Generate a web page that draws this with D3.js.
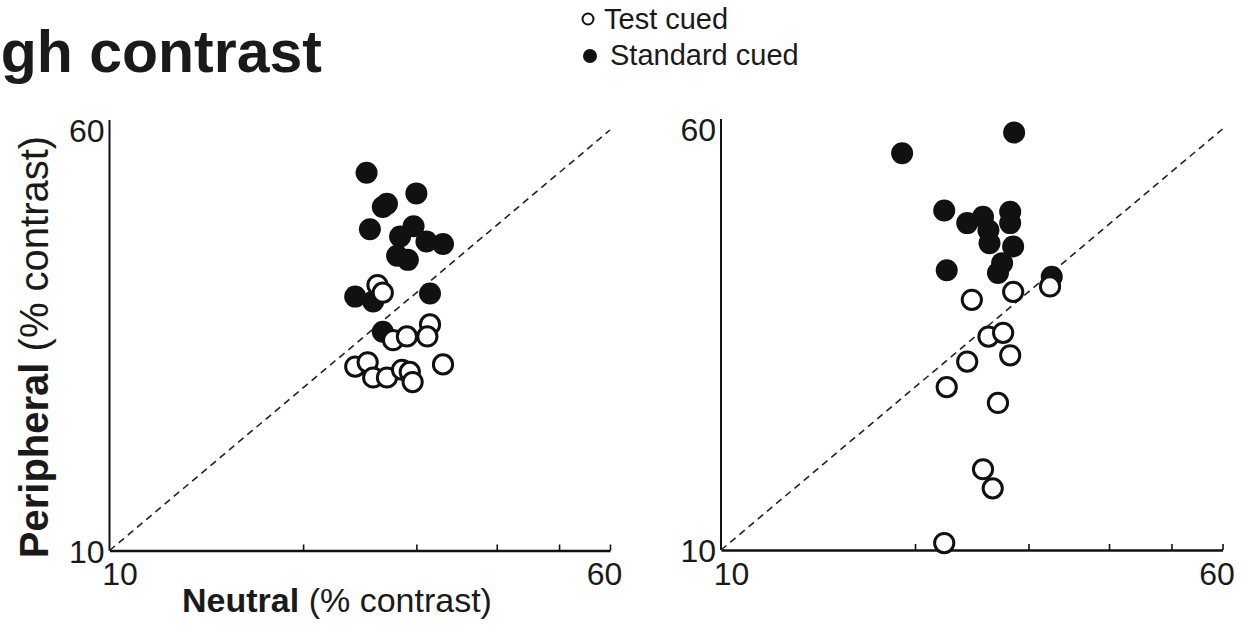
<!DOCTYPE html>
<html>
<head>
<meta charset="utf-8">
<script src="https://cdn.jsdelivr.net/npm/d3@7"></script>
<style>
  html, body { margin: 0; padding: 0; background: #fff; }
  svg { display: block; }
  text { font-family: "Liberation Sans", Arial, sans-serif; fill: #1a1a1a; }
</style>
</head>
<body>
<svg id="chart" width="1253" height="631"></svg>
<script>
// ---- data (Neutral %, Peripheral %) ----
const axisDomain = [10, 60];
const majorTicks = [10, 60];
const minorTicks = [20, 30, 40, 50];
const seriesNames = ["Test cued", "Standard cued"];

const leftStandard = [[25.1,50.0],[30.0,45.8],[26.6,43.2],[27.0,43.8],[25.4,39.3],[29.7,39.8],[28.3,38.1],[31.1,37.3],[33.0,36.9],[28.0,35.1],[29.1,34.5],[24.1,29.5],[25.7,28.9],[31.5,29.9],[26.6,25.4]];
const leftTest = [[26.1,31.0],[26.6,30.0],[31.5,26.2],[31.2,24.9],[27.6,24.5],[29.0,24.9],[24.1,21.9],[25.2,22.3],[25.7,20.9],[27.0,20.9],[28.5,21.6],[29.3,21.4],[29.6,20.5],[33.0,22.1]];
const rightStandard = [[19.1,54.1],[28.5,59.1],[22.2,42.4],[24.1,40.2],[25.5,41.3],[26.0,39.0],[26.1,36.9],[28.1,42.2],[28.1,40.2],[28.4,36.4],[27.3,33.9],[26.9,32.5],[22.4,32.9],[32.6,32.0]];
const rightTest = [[24.5,29.0],[28.4,30.0],[32.4,30.7],[26.0,24.8],[27.4,25.2],[28.1,22.9],[24.1,22.3],[22.4,20.0],[26.9,18.7],[25.5,14.1],[26.4,13.0],[22.2,10.3]];

const svg = d3.select("#chart");

// Title (cut off at the left edge)
svg.append("text")
  .attr("x", 322).attr("y", 72)
  .attr("text-anchor", "end")
  .style("font-size", "59px").style("font-weight", "bold")
  .text("High contrast");

// Legend
const legend = svg.append("g");
legend.append("circle").attr("cx", 588).attr("cy", 19).attr("r", 5.5)
  .attr("fill", "#fff").attr("stroke", "#111").attr("stroke-width", 2);
legend.append("circle").attr("cx", 590).attr("cy", 56).attr("r", 7)
  .attr("fill", "#111");
legend.append("text").attr("x", 604).attr("y", 29).style("font-size", "29px").text(seriesNames[0]);
legend.append("text").attr("x", 610).attr("y", 65).style("font-size", "29px").text(seriesNames[1]);

function panel(x0, x1, y0, y1, standard, test) {
  const x = d3.scaleLog().domain(axisDomain).range([x0, x1]);
  const y = d3.scaleLog().domain(axisDomain).range([y0, y1]);
  const g = svg.append("g");

  // x axis: major tick labels + minor ticks pointing inward
  const xAxis = g.append("g").attr("transform", `translate(0,${y0})`)
    .call(d3.axisBottom(x).tickValues(majorTicks.concat(minorTicks))
      .tickSize(-6).tickSizeOuter(0)
      .tickFormat(d => majorTicks.includes(d) ? d3.format("d")(d) : ""));
  xAxis.select(".domain").attr("stroke", "#111").attr("stroke-width", 2.5);
  xAxis.selectAll(".tick line").attr("stroke", "#111").attr("stroke-width", 1.6);
  xAxis.selectAll(".tick").filter(d => d === majorTicks[0]).select("line").remove();
  xAxis.selectAll(".tick text")
    .style("font-size", "32px").attr("fill", "#1a1a1a")
    .attr("y", 12).attr("dy", "0.71em")
    .attr("dx", d => d === majorTicks[0] ? 10 : -6);

  // y axis
  const yAxis = g.append("g").attr("transform", `translate(${x0},0)`)
    .call(d3.axisLeft(y).tickValues(majorTicks).tickSize(0).tickSizeOuter(0)
      .tickFormat(d3.format("d")));
  yAxis.select(".domain").attr("stroke", "#111").attr("stroke-width", 2)
    .attr("d", `M0,${y0}V${y1 - 10}`);
  yAxis.selectAll(".tick text").style("font-size", "32px").attr("fill", "#1a1a1a")
    .attr("x", -5).attr("dy", "0.36em");

  // identity line
  g.append("line")
    .attr("x1", x(axisDomain[0])).attr("y1", y(axisDomain[0]))
    .attr("x2", x(axisDomain[1])).attr("y2", y(axisDomain[1]))
    .attr("stroke", "#222").attr("stroke-width", 1.6)
    .attr("stroke-dasharray", "7,5");

  // standard cued (filled)
  g.append("g").selectAll("circle").data(standard).join("circle")
    .attr("cx", d => x(d[0])).attr("cy", d => y(d[1])).attr("r", 11)
    .attr("fill", "#111");
  // test cued (open, white fill, on top)
  g.append("g").selectAll("circle").data(test).join("circle")
    .attr("cx", d => x(d[0])).attr("cy", d => y(d[1])).attr("r", 9.6)
    .attr("fill", "#fff").attr("stroke", "#111").attr("stroke-width", 3);
}

panel(109.5, 610, 550.5, 130, leftStandard, leftTest);
panel(721, 1222.5, 550, 129, rightStandard, rightTest);

// Axis titles
const xt = svg.append("text").attr("x", 337).attr("y", 612).attr("text-anchor", "middle")
  .style("font-size", "34px");
xt.append("tspan").style("font-weight", "bold").text("Neutral");
xt.append("tspan").text(" (% contrast)");

const yt = svg.append("text").attr("transform", "translate(48,347) rotate(-90)")
  .attr("text-anchor", "middle").style("font-size", "40px");
yt.append("tspan").style("font-weight", "bold").text("Peripheral");
yt.append("tspan").text(" (% contrast)");
</script>
</body>
</html>
